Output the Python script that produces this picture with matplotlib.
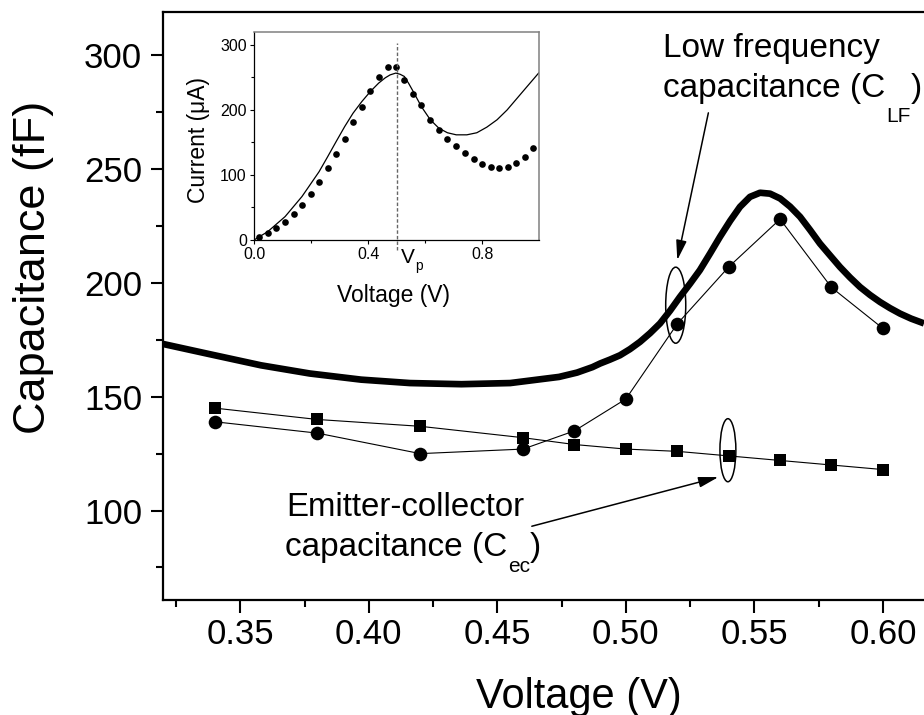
import matplotlib
matplotlib.use("Agg")
import matplotlib.pyplot as plt
from matplotlib.patches import Ellipse
from matplotlib.ticker import FixedLocator

plt.rcParams['font.family'] = ['Liberation Sans', 'DejaVu Sans']

# ---------------- data (main panel) ----------------
v_meas = [0.34, 0.38, 0.42, 0.46, 0.48, 0.50, 0.52, 0.54, 0.56, 0.58, 0.60]
c_lf_meas = [139, 134, 125, 127, 135, 149, 182, 207, 228, 198, 180]
c_ec_meas = [145, 140, 137, 132, 129, 127, 126, 124, 122, 120, 118]

v_model = [0.319, 0.338, 0.358, 0.377, 0.397, 0.416, 0.436, 0.455, 0.474, 0.481,
           0.487, 0.490, 0.4938, 0.4977, 0.5016, 0.5055, 0.5094, 0.5133, 0.5172,
           0.5210, 0.5250, 0.5288, 0.5328, 0.5366, 0.5406, 0.5444, 0.5483, 0.5522,
           0.5561, 0.5600, 0.5639, 0.5678, 0.5717, 0.5755, 0.5795, 0.5833, 0.5872,
           0.5911, 0.5950, 0.5989, 0.6028, 0.6067, 0.6110, 0.6160]
c_model = [173.4, 168.7, 163.8, 160.2, 157.5, 156.0, 155.5, 156.0, 158.7, 160.6,
           163.0, 164.6, 166.3, 168.2, 170.9, 174.1, 177.9, 182.2, 187.8,
           193.8, 199.7, 205.6, 213.0, 220.2, 227.3, 233.4, 237.8, 239.6,
           239.2, 237.1, 233.5, 229.0, 223.2, 217.3, 212.0, 207.0, 202.4,
           198.2, 194.7, 191.6, 188.9, 186.5, 184.3, 182.2]

x_ticks = [0.35, 0.40, 0.45, 0.50, 0.55, 0.60]
x_ticklabels = ['0.35', '0.40', '0.45', '0.50', '0.55', '0.60']
x_minor = [0.325, 0.375, 0.425, 0.475, 0.525, 0.575]
y_ticks = [100, 150, 200, 250, 300]
y_minor = [75, 125, 175, 225, 275]

# ellipses: (center V, center C, width V, height C)
ellipse_lf = (0.5194, 190.2, 0.0078, 33.4)
ellipse_ec = (0.5397, 126.5, 0.0062, 27.7)
# arrows: (tail V, tail C, head V, head C)
arrow_lf = (0.5321, 274.7, 0.5200, 210.0)
arrow_ec = (0.4634, 93.1, 0.5360, 114.7)

# ---------------- data (inset) ----------------
iv_dots = [0.018, 0.048, 0.078, 0.109, 0.139, 0.168, 0.199, 0.228, 0.258, 0.288,
           0.318, 0.347, 0.378, 0.408, 0.437, 0.468, 0.497, 0.527, 0.558, 0.587,
           0.618, 0.648, 0.678, 0.709, 0.739, 0.770, 0.800, 0.829, 0.859, 0.889,
           0.918, 0.949, 0.979]
ii_dots = [4, 11, 18.5, 28, 40.5, 54.5, 71, 89, 110, 132,
           156, 181, 205, 229.5, 251, 265.5, 265.5, 245.5, 225, 207.5,
           185, 169, 156, 144, 134, 125, 117, 112, 110, 113,
           118, 128, 142]
iv_fit = [0.0, 0.048, 0.109, 0.168, 0.228, 0.258, 0.288, 0.318, 0.347, 0.378,
          0.408, 0.437, 0.460, 0.477, 0.497, 0.512, 0.527, 0.542, 0.558, 0.587,
          0.618, 0.648, 0.678, 0.709, 0.746, 0.781, 0.816, 0.852, 0.887, 0.922,
          0.957, 0.998]
ii_fit = [0, 12.8, 36, 66.8, 105, 128, 151.5, 174.6, 195, 213,
          228.5, 241.4, 249.5, 254, 256.8, 255, 251.6, 241, 228.5, 205,
          185, 172, 165, 161.8, 161.8, 165, 173.6, 185, 200, 218,
          236, 257]
v_peak = 0.5

W, H = 924, 715
fig = plt.figure(figsize=(W / 100, H / 100), dpi=100, facecolor='white')

# ---------------- main axes ----------------
ax = fig.add_axes([163 / W, 1 - 600 / H, (W - 163) / W, 588 / H])
ax.set_xlim(0.3199, 0.6160)
ax.set_ylim(60.7, 319)

ax.plot(v_model, c_model, color='black', lw=4.8, solid_capstyle='butt',
        solid_joinstyle='round', zorder=3)
ax.plot(v_meas, c_lf_meas, color='black', lw=0.8, marker='o', ms=9.8,
        markeredgewidth=0, zorder=4)
ax.plot(v_meas, c_ec_meas, color='black', lw=0.8, marker='s', ms=8.8,
        markeredgewidth=0, zorder=4)

for (cx, cy, w, h) in (ellipse_lf, ellipse_ec):
    ax.add_patch(Ellipse((cx, cy), w, h, fill=False, edgecolor='black', lw=1.1, zorder=5))

for (tx, ty, hx, hy) in (arrow_lf, arrow_ec):
    ax.annotate('', xy=(hx, hy), xytext=(tx, ty),
                arrowprops=dict(arrowstyle='-|>,head_length=1.2,head_width=0.32',
                                color='black', lw=1.1, mutation_scale=10,
                                shrinkA=0, shrinkB=0), zorder=5)

ax.xaxis.set_major_locator(FixedLocator(x_ticks))
ax.set_xticklabels(x_ticklabels)
ax.xaxis.set_minor_locator(FixedLocator(x_minor))
ax.yaxis.set_major_locator(FixedLocator(y_ticks))
ax.yaxis.set_minor_locator(FixedLocator(y_minor))
ax.tick_params(which='major', direction='out', length=9, width=1.5, labelsize=25)
ax.tick_params(which='minor', direction='out', length=5, width=1.5)
ax.tick_params(axis='x', which='major', pad=4)
ax.tick_params(axis='y', which='major', pad=6)
for s in ('left', 'bottom', 'top'):
    ax.spines[s].set_linewidth(1.6)
ax.spines['right'].set_visible(False)

ax.set_xlabel('Voltage (V)', fontsize=30)
ax.xaxis.label.set_va('baseline')
ax.xaxis.set_label_coords((579 - 163) / (W - 163), (600 - 708) / 588)
ax.set_ylabel('Capacitance (fF)', fontsize=32.5)
ax.yaxis.label.set_va('baseline')
ax.yaxis.set_label_coords((45 - 163) / (W - 163), (600 - 267) / 588)

# ---------------- inset ----------------
ins = fig.add_axes([254 / W, 1 - 240 / H, 285.3 / W, 208 / H])
ins.set_xlim(0, 1.0)
ins.set_ylim(0, 320)
ins.plot(iv_fit, ii_fit, color='black', lw=0.9, solid_joinstyle='round')
ins.plot(iv_dots, ii_dots, 'o', color='black', ms=4.8, markeredgewidth=0)
ins.plot([v_peak, v_peak], [-15, 303], color='#666666', lw=1.0, ls=(0, (2.5, 1.5)),
         clip_on=False)
ins.xaxis.set_major_locator(FixedLocator([0.0, 0.4, 0.8]))
ins.set_xticklabels(['0.0', '0.4', '0.8'])
ins.xaxis.set_minor_locator(FixedLocator([0.2, 0.6]))
ins.yaxis.set_major_locator(FixedLocator([0, 100, 200, 300]))
ins.yaxis.set_minor_locator(FixedLocator([50, 150, 250]))
ins.tick_params(which='major', direction='out', length=3.2, width=0.8, labelsize=11.5, pad=2)
ins.tick_params(which='minor', direction='out', length=2.2, width=0.8)
for s in ('left', 'bottom'):
    ins.spines[s].set_linewidth(0.9)
for s in ('top', 'right'):
    ins.spines[s].set_linewidth(1.1)
    ins.spines[s].set_color('#808080')
ins.set_xlabel('Voltage (V)', fontsize=16.5)
ins.xaxis.label.set_va('baseline')
ins.xaxis.set_label_coords((393 - 254) / 285.3, (240 - 301.7) / 208)
ins.set_ylabel('Current (\u03bcA)', fontsize=16.5)
ins.yaxis.label.set_va('baseline')
ins.yaxis.set_label_coords((205 - 254) / 285.3, (240 - 140) / 208)

# ---------------- text with subscripts ----------------
renderer = fig.canvas.get_renderer()


def sub_text(x_px, base_px, main, sub, tail, size, subsize, drop_px, gap_px=1.0):
    t = fig.text(x_px / W, 1 - base_px / H, main, fontsize=size, va='baseline', ha='left')
    bb = t.get_window_extent(renderer)
    s = fig.text((bb.x1 + gap_px) / W, 1 - (base_px + drop_px) / H, sub, fontsize=subsize,
                 va='baseline', ha='left')
    if tail:
        bb2 = s.get_window_extent(renderer)
        fig.text(bb2.x1 / W, 1 - base_px / H, tail, fontsize=size, va='baseline', ha='left')


fig.text(663 / W, 1 - 57 / H, 'Low frequency', fontsize=24, va='baseline', ha='left')
sub_text(663, 97, 'capacitance (C', 'LF', ')', 24, 15, 25)
fig.text(286 / W, 1 - 516 / H, 'Emitter-collector', fontsize=23.8, va='baseline', ha='left')
sub_text(285, 556, 'capacitance (C', 'ec', ')', 24, 15, 16)
sub_text(401, 263, 'V', 'p', '', 15, 10, 7, gap_px=0)

fig.savefig('out.png', dpi=100, facecolor='white')
